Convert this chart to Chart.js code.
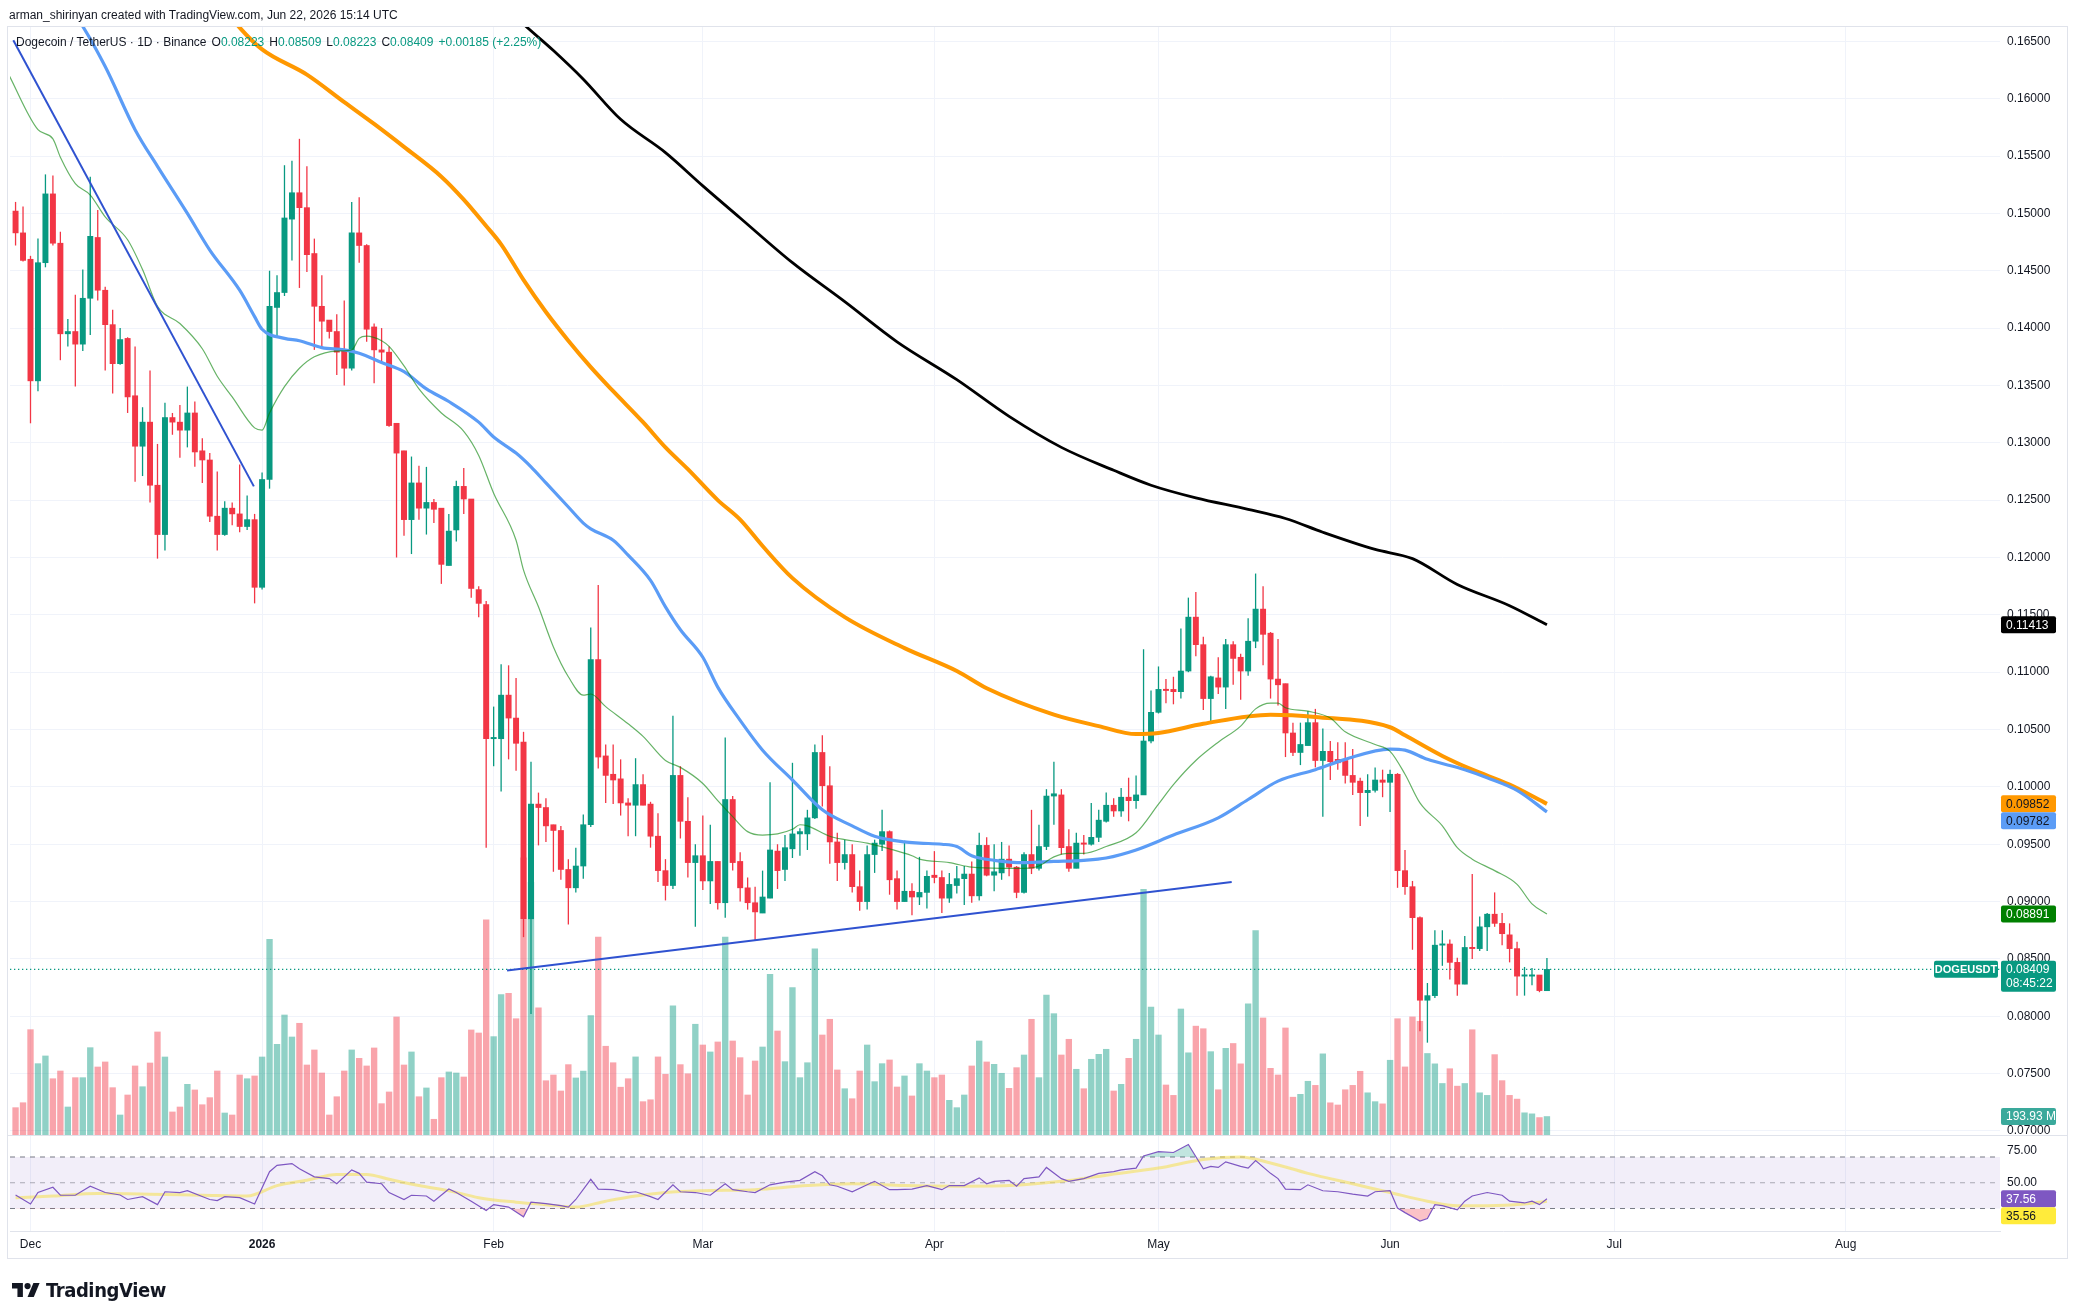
<!DOCTYPE html>
<html lang="en">
<head>
<meta charset="utf-8">
<title>DOGEUSDT 1D</title>
<script src="https://cdn.jsdelivr.net/npm/chart.js@4.4.1/dist/chart.umd.min.js"></script>
<style>
html, body { margin: 0; padding: 0; background: #ffffff; }
body { position: relative; width: 2078px; height: 1314px; overflow: hidden; font-family: 'Liberation Sans', Arial, sans-serif; color: #131722; }
.box { position: absolute; }
#frame { left: 7px; top: 26px; width: 2061px; height: 1233px; border: 1px solid #e0e3eb; box-sizing: border-box; }
#mainBox { left: 0; top: 0; width: 2078px; height: 1136px; }
#rsiBox { left: 0; top: 1135px; width: 2078px; height: 179px; }
#sep { left: 8px; top: 1135px; width: 2059px; height: 1px; background: #e0e3eb; }
#header { left: 9px; top: 7px; font-size: 12px; line-height: 16px; white-space: nowrap; }
#legend { left: 16px; top: 34px; font-size: 12px; line-height: 16px; white-space: nowrap; }
#legend .v { color: #089981; }
#legend .gap { display: inline-block; width: 5px; }
#logo { left: 12px; top: 1279px; display: flex; align-items: center; gap: 6px; font-family: 'DejaVu Sans Condensed', 'DejaVu Sans', sans-serif; font-stretch: condensed; font-weight: bold; font-size: 20px; line-height: 22px; letter-spacing: -0.4px; }
</style>
</head>
<body>
<div id="frame" class="box"></div>
<div id="mainBox" class="box"><canvas id="mainChart"></canvas></div>
<div id="rsiBox" class="box"><canvas id="rsiChart"></canvas></div>
<div id="sep" class="box"></div>
<div id="header" class="box">arman_shirinyan created with TradingView.com, Jun 22, 2026 15:14 UTC</div>
<div id="legend" class="box"></div>
<div id="logo" class="box"><svg width="28" height="18" viewBox="0 3 36 20"><path d="M14 22H7V11H0V4h14v18z" fill="#131722"/><circle cx="20" cy="8" r="4" fill="#131722"/><path d="M28 22h-8l7.5-18h8L28 22z" fill="#131722"/></svg><span>TradingView</span></div>
<script>
// day 0 = 1 Dec 2025, the first candle is 29 Nov 2025 (day -2)
var firstDay = -2;

var opens = [
  0.1502,0.1483,0.1460,0.1354,0.1457,0.1517,0.1474,0.1395,0.1397,0.1386,
  0.1426,0.1479,0.1433,0.1403,0.1369,0.1391,0.1341,0.1297,0.1318,0.1263,
  0.1220,0.1322,0.1318,0.1311,0.1326,0.1293,0.1285,0.1236,0.1220,0.1243,
  0.1238,0.1227,0.1233,0.1174,0.1268,0.1418,0.1431,0.1495,0.1518,0.1505,
  0.1465,0.1419,0.1407,0.1397,0.1380,0.1365,0.1483,0.1472,0.1401,0.1381,
  0.1379,0.1317,0.1293,0.1233,0.1265,0.1243,0.1248,0.1243,0.1193,0.1224,
  0.1262,0.1251,0.1172,0.1159,0.1042,0.1042,0.1080,0.1060,0.1039,0.0885,
  0.0985,0.0982,0.0967,0.0962,0.0928,0.0912,0.0931,0.0967,0.1111,0.1027,
  0.1011,0.1007,0.0986,0.0984,0.1002,0.0985,0.0957,0.0927,0.0914,0.1010,
  0.0970,0.0934,0.0940,0.0918,0.0935,0.0899,0.0989,0.0935,0.0912,0.0899,
  0.0890,0.0903,0.0944,0.0928,0.0946,0.0959,0.0959,0.0973,0.1030,0.1001,
  0.0952,0.0934,0.0941,0.0913,0.0900,0.0941,0.0950,0.0961,0.0920,0.0900,
  0.0909,0.0904,0.0908,0.0923,0.0921,0.0903,0.0914,0.0920,0.0924,0.0905,
  0.0949,0.0923,0.0925,0.0937,0.0930,0.0908,0.0941,0.0929,0.0948,0.0992,
  0.0993,0.0948,0.0929,0.0951,0.0950,0.0956,0.0970,0.0984,0.0979,0.0991,
  0.0988,0.0993,0.1040,0.1065,0.1085,0.1085,0.1083,0.1101,0.1148,0.1124,
  0.1077,0.1095,0.1087,0.1124,0.1113,0.1101,0.1127,0.1155,0.1134,0.1094,
  0.1090,0.1047,0.1030,0.1036,0.1056,0.1023,0.1031,0.1024,0.1023,0.1010,
  0.1005,0.0995,0.0997,0.1006,0.1004,0.1011,0.0927,0.0913,0.0886,0.0814,
  0.0818,0.0862,0.0863,0.0847,0.0828,0.0860,0.0859,0.0878,0.0889,0.0881,
  0.0871,0.0859,0.0835,0.0835,0.0836,0.08223
];
var highs = [
  0.1510,0.1506,0.1463,0.1478,0.1534,0.1533,0.1484,0.1408,0.1429,0.1451,
  0.1532,0.1503,0.1436,0.1416,0.1400,0.1392,0.1384,0.1331,0.1363,0.1299,
  0.1335,0.1326,0.1333,0.1349,0.1336,0.1304,0.1291,0.1275,0.1249,0.1248,
  0.1281,0.1254,0.1238,0.1274,0.1450,0.1446,0.1542,0.1546,0.1565,0.1541,
  0.1478,0.1446,0.1407,0.1412,0.1424,0.1510,0.1514,0.1473,0.1404,0.1400,
  0.1384,0.1317,0.1293,0.1288,0.1280,0.1279,0.1251,0.1243,0.1238,0.1267,
  0.1278,0.1251,0.1175,0.1162,0.1070,0.1107,0.1106,0.1095,0.1048,0.1022,
  0.0995,0.0990,0.0967,0.0966,0.0937,0.0947,0.0976,0.1139,0.1176,0.1037,
  0.1037,0.1024,0.0990,0.1025,0.1011,0.0987,0.0977,0.0937,0.1062,0.1018,
  0.0991,0.0950,0.0975,0.0967,0.0935,0.1043,0.0992,0.0943,0.0921,0.0913,
  0.0927,0.1004,0.0950,0.0958,0.1021,0.0964,0.0980,0.1037,0.1045,0.1018,
  0.0960,0.0954,0.0950,0.0927,0.0949,0.0954,0.0980,0.0962,0.0927,0.0953,
  0.0916,0.0939,0.0927,0.0944,0.0927,0.0925,0.0931,0.0931,0.0935,0.0960,
  0.0956,0.0950,0.0952,0.0949,0.0931,0.0943,0.0980,0.0967,0.0998,0.1022,
  0.0998,0.0963,0.0960,0.0958,0.0986,0.0980,0.0995,0.0990,0.0999,0.1008,
  0.1010,0.1120,0.1084,0.1105,0.1094,0.1096,0.1138,0.1165,0.1170,0.1131,
  0.1097,0.1113,0.1129,0.1127,0.1116,0.1147,0.1186,0.1175,0.1135,0.1129,
  0.1090,0.1056,0.1056,0.1066,0.1068,0.1051,0.1040,0.1039,0.1039,0.1033,
  0.1008,0.1011,0.1017,0.1015,0.1015,0.1012,0.0945,0.0918,0.0887,0.0829,
  0.0875,0.0875,0.0867,0.0851,0.0870,0.0924,0.0887,0.0890,0.0908,0.0890,
  0.0881,0.0865,0.0843,0.0842,0.0836,0.08509
];
var lows = [
  0.1472,0.1458,0.1317,0.1345,0.1453,0.1472,0.1372,0.1384,0.1349,0.1380,
  0.1394,0.1424,0.1363,0.1343,0.1368,0.1326,0.1266,0.1271,0.1248,0.1199,
  0.1206,0.1307,0.1287,0.1296,0.1279,0.1265,0.1231,0.1206,0.1219,0.1228,
  0.1222,0.1224,0.1160,0.1172,0.1260,0.1392,0.1428,0.1459,0.1435,0.1449,
  0.1381,0.1383,0.1391,0.1359,0.1350,0.1363,0.1457,0.1388,0.1352,0.1370,
  0.1314,0.1200,0.1219,0.1203,0.1233,0.1220,0.1230,0.1177,0.1193,0.1214,
  0.1238,0.1165,0.1148,0.0947,0.1018,0.0996,0.1024,0.1014,0.0869,0.0802,
  0.0949,0.0952,0.0926,0.0919,0.0880,0.0908,0.0920,0.0965,0.1016,0.0986,
  0.0985,0.0975,0.0957,0.0957,0.0984,0.0947,0.0917,0.0901,0.0911,0.0955,
  0.0921,0.0878,0.0910,0.0898,0.0893,0.0886,0.0927,0.0900,0.0893,0.0866,
  0.0890,0.0903,0.0911,0.0918,0.0938,0.0940,0.0945,0.0972,0.0983,0.0933,
  0.0918,0.0928,0.0908,0.0892,0.0893,0.0925,0.0944,0.0906,0.0893,0.0900,
  0.0888,0.0897,0.0894,0.0916,0.0890,0.0899,0.0907,0.0897,0.0899,0.0901,
  0.0922,0.0909,0.0919,0.0922,0.0903,0.0907,0.0924,0.0927,0.0945,0.0967,
  0.0941,0.0926,0.0929,0.0941,0.0949,0.0952,0.0969,0.0974,0.0974,0.0970,
  0.0981,0.0993,0.1038,0.1064,0.1073,0.1072,0.1077,0.1100,0.1114,0.1067,
  0.1056,0.1081,0.1068,0.1089,0.1076,0.1097,0.1121,0.1106,0.1077,0.1071,
  0.1026,0.1027,0.1019,0.1036,0.1017,0.0974,0.1006,0.1015,0.1003,0.0993,
  0.0966,0.0974,0.0995,0.0991,0.0978,0.0912,0.0906,0.0858,0.0787,0.0777,
  0.0816,0.0844,0.0832,0.0818,0.0828,0.0850,0.0857,0.0857,0.0878,0.0862,
  0.0847,0.0818,0.0818,0.0827,0.0821,0.08223
];
var closes = [
  0.1483,0.1459,0.1354,0.1457,0.1517,0.1474,0.1395,0.1397,0.1386,0.1426,
  0.1480,0.1433,0.1403,0.1369,0.1390,0.1340,0.1297,0.1318,0.1263,0.1220,
  0.1322,0.1318,0.1311,0.1326,0.1292,0.1285,0.1236,0.1220,0.1243,0.1238,
  0.1227,0.1233,0.1174,0.1268,0.1419,0.1431,0.1496,0.1518,0.1505,0.1464,
  0.1419,0.1406,0.1397,0.1379,0.1365,0.1483,0.1472,0.1399,0.1381,0.1379,
  0.1315,0.1291,0.1233,0.1265,0.1243,0.1248,0.1242,0.1194,0.1223,0.1262,
  0.1251,0.1173,0.1160,0.1042,0.1043,0.1080,0.1060,0.1038,0.0885,0.0985,
  0.0982,0.0966,0.0962,0.0928,0.0912,0.0931,0.0967,0.1111,0.1026,0.1010,
  0.1006,0.0986,0.0984,0.1002,0.0984,0.0957,0.0927,0.0914,0.1010,0.0970,
  0.0934,0.0940,0.0918,0.0935,0.0899,0.0989,0.0934,0.0912,0.0899,0.0891,
  0.0904,0.0945,0.0927,0.0947,0.0959,0.0961,0.0973,0.1030,0.1001,0.0952,
  0.0934,0.0941,0.0913,0.0900,0.0941,0.0951,0.0961,0.0919,0.0900,0.0909,
  0.0904,0.0908,0.0922,0.0921,0.0903,0.0915,0.0920,0.0924,0.0905,0.0949,
  0.0923,0.0926,0.0937,0.0930,0.0908,0.0941,0.0929,0.0948,0.0992,0.0994,
  0.0947,0.0929,0.0951,0.0950,0.0956,0.0971,0.0984,0.0979,0.0991,0.0988,
  0.0993,0.1040,0.1065,0.1085,0.1084,0.1083,0.1101,0.1148,0.1124,0.1077,
  0.1096,0.1087,0.1124,0.1112,0.1101,0.1127,0.1155,0.1133,0.1094,0.1089,
  0.1047,0.1030,0.1037,0.1056,0.1023,0.1031,0.1022,0.1021,0.1010,0.1004,
  0.0995,0.0997,0.1006,0.1004,0.1011,0.0927,0.0913,0.0886,0.0814,0.0818,
  0.0862,0.0863,0.0847,0.0828,0.0860,0.0859,0.0878,0.0889,0.0881,0.0872,
  0.0859,0.0835,0.0836,0.0836,0.08224,0.08409
];
// volume in millions of DOGE
var volumes = [
  287,339,1106,749,830,591,672,294,602,602,
  917,714,767,497,210,420,725,507,756,1082,
  819,242,294,532,473,318,392,672,231,210,
  630,591,620,819,2055,952,1260,1029,1173,735,
  893,651,210,402,672,893,805,725,914,329,
  452,1239,735,872,402,494,165,602,662,651,
  609,1103,1071,2258,1033,1475,1487,1221,2909,2652,
  1334,570,630,462,739,599,671,1254,2078,932,
  759,502,591,820,350,370,820,638,1355,739,
  643,1163,945,872,977,2079,987,812,420,777,
  924,1687,1092,770,1547,602,759,1956,1050,1215,
  683,486,381,672,945,560,749,788,504,620,
  410,749,672,602,630,364,287,420,725,987,
  767,742,648,490,707,840,1215,602,1470,1274,
  840,1005,690,486,795,847,900,462,532,805,
  1005,2580,1344,1050,525,416,1323,863,1143,1116,
  875,475,910,961,747,1377,2146,1229,700,630,
  1124,397,427,564,521,852,338,315,475,521,
  669,443,350,327,785,1221,715,1240,1194,856,
  747,541,696,513,541,1105,443,416,844,571,
  416,377,233,222,183,193.93
];

// moving averages (day, value)
var ma200Days = [58, 62, 66, 70, 74, 79, 85, 90, 95, 102, 109, 116, 124, 131, 138, 145, 150, 156, 163, 168, 173, 180, 185, 191, 198, 203];
var ma200Vals = [0.1712, 0.1690, 0.1665, 0.1642, 0.1617, 0.1582, 0.1553, 0.1524, 0.1496, 0.1457, 0.1423, 0.1388, 0.1355, 0.1323, 0.1296, 0.1276, 0.1263, 0.1252, 0.1242, 0.1234, 0.1222, 0.1207, 0.1199, 0.11765, 0.1158, 0.11413];

var ma100Days = [22, 28, 31, 37, 42, 46, 50, 55, 58, 61, 63, 66, 69, 72, 75, 78, 82, 85, 88, 92, 95, 98, 102, 109, 117, 124, 128, 137, 143, 148, 151, 157, 166, 172, 182, 184, 189, 193, 198, 203];
var ma100Vals = [0.1712, 0.1662, 0.1643, 0.1621, 0.1597, 0.1578, 0.1558, 0.1532, 0.1512, 0.1489, 0.1473, 0.1442, 0.1414, 0.1389, 0.1366, 0.1345, 0.1318, 0.1296, 0.1277, 0.1250, 0.1233, 0.1210, 0.1182, 0.1148, 0.1121, 0.1101, 0.1086, 0.1063, 0.1053, 0.1046, 0.1047, 0.1055, 0.1063, 0.1061, 0.1052, 0.1045, 0.1027, 0.1015, 0.1002, 0.09852];

var ma50Days = [3, 7, 10, 14, 17, 21, 24, 28, 30, 31, 34, 36, 39, 42, 44, 47, 50, 53, 56, 60, 62, 65, 67, 69, 72, 74, 75, 78, 80, 83, 85, 87, 90, 92, 95, 98, 102, 106, 110, 113, 117, 119, 122, 124, 126, 129, 133, 137, 141, 144, 148, 153, 159, 163, 167, 172, 176, 182, 184, 187, 192, 195, 199, 203];
var ma50Vals = [0.1700, 0.1663, 0.1628, 0.1573, 0.1541, 0.1500, 0.1468, 0.1433, 0.1410, 0.1399, 0.1391, 0.1389, 0.1383, 0.1381, 0.1378, 0.1370, 0.1362, 0.1347, 0.1336, 0.1318, 0.1305, 0.1291, 0.1279, 0.1265, 0.1244, 0.1230, 0.1225, 0.1215, 0.1202, 0.1180, 0.1157, 0.1137, 0.1113, 0.1087, 0.1058, 0.1032, 0.1006, 0.0980, 0.0966, 0.0957, 0.0952, 0.0951, 0.0950, 0.0948, 0.0940, 0.0936, 0.0934, 0.0935, 0.0936, 0.0938, 0.0945, 0.0958, 0.0973, 0.0989, 0.1005, 0.1015, 0.1024, 0.1033, 0.1032, 0.1024, 0.1015, 0.1008, 0.0997, 0.09782];

var ma20Days = [-3, 1, 3, 4, 6, 8, 10, 13, 15, 17, 20, 23, 25, 27, 30, 31, 32, 34, 36, 38, 41, 43, 44, 45, 47, 48, 50, 52, 55, 58, 60, 62, 65, 66, 68, 70, 72, 74, 75, 77, 80, 82, 85, 87, 90, 92, 94, 96, 98, 100, 102, 103, 104, 107, 109, 112, 115, 118, 119, 123, 126, 130, 133, 135, 137, 139, 141, 144, 148, 151, 153, 156, 159, 162, 164, 166, 167, 168, 171, 174, 176, 180, 182, 184, 186, 189, 191, 193, 196, 199, 201, 203];
var ma20Vals = [0.1622, 0.1573, 0.1565, 0.1549, 0.1526, 0.1516, 0.1497, 0.1477, 0.1451, 0.1419, 0.1404, 0.1382, 0.1358, 0.1340, 0.1313, 0.1311, 0.1326, 0.1349, 0.1365, 0.1375, 0.1380, 0.1381, 0.1391, 0.1393, 0.1389, 0.1384, 0.1367, 0.1347, 0.1326, 0.1310, 0.1289, 0.1256, 0.1215, 0.1189, 0.1157, 0.1122, 0.1096, 0.1080, 0.1081, 0.1070, 0.1055, 0.1044, 0.1023, 0.1017, 0.1003, 0.0988, 0.0974, 0.0961, 0.0958, 0.0959, 0.0963, 0.0967, 0.0966, 0.0957, 0.0954, 0.0951, 0.0946, 0.0940, 0.0937, 0.0934, 0.0930, 0.0929, 0.0929, 0.0931, 0.0939, 0.0942, 0.0942, 0.0948, 0.0960, 0.0985, 0.1002, 0.1023, 0.1039, 0.1053, 0.1068, 0.1073, 0.1073, 0.1069, 0.1066, 0.1060, 0.1048, 0.1037, 0.1031, 0.1011, 0.0986, 0.0966, 0.0947, 0.0937, 0.0927, 0.0915, 0.0898, 0.08891];

// hand drawn trend lines (day, price)
var trendDownDays = [-2.3, 29.9];
var trendDownVals = [0.1651, 0.1262];
var trendUpDays = [63.8, 160.8];
var trendUpVals = [0.0840, 0.0917];

// RSI(14) and its moving average
var rsiDays = [-2, 0, 1, 3, 4, 6, 8, 10, 12, 13, 15, 17, 18, 20, 21, 24, 25, 26, 28, 30, 32, 33, 35, 36, 38, 40, 41, 43, 44, 45, 47, 48, 50, 51, 53, 54, 56, 57, 59, 61, 62, 64, 66, 67, 69, 71, 72, 73, 75, 76, 78, 80, 81, 83, 84, 86, 87, 89, 91, 93, 94, 96, 97, 99, 101, 103, 105, 106, 107, 108, 110, 112, 113, 115, 116, 118, 120, 122, 123, 125, 127, 128, 129, 131, 132, 133, 135, 136, 138, 139, 141, 143, 145, 146, 148, 149, 151, 153, 155, 157, 158, 159, 160, 162, 163, 164, 166, 167, 168, 170, 171, 173, 175, 177, 179, 180, 182, 183, 184, 186, 187, 188, 189, 191, 192, 193, 195, 197, 198, 200, 201, 202, 203];
var rsiVals = [40.5, 33.5, 42.4, 46.5, 40.3, 40.3, 47.3, 42.4, 40.5, 37, 39.2, 33, 43, 42.4, 43.8, 37, 36.2, 39.2, 38.4, 33.5, 58.6, 63.5, 64.9, 60.8, 54.6, 53.2, 49.2, 60, 57.3, 50.5, 49.2, 42.4, 37, 40.3, 39.7, 35.7, 45.1, 42.4, 35.7, 28.4, 33, 31.1, 23.5, 34.9, 33.8, 32.2, 31.1, 37, 52.7, 45.1, 44.6, 42.4, 43, 39.2, 37, 48.4, 43, 42.4, 40.3, 49.2, 44.6, 43, 42.4, 48.4, 50.5, 51.9, 58.6, 55.4, 48.4, 47.3, 43, 48.4, 51.1, 44.6, 44.6, 45.1, 47.8, 44.6, 47.8, 47.8, 53.8, 49.2, 51.1, 51.9, 47.3, 53.2, 54.6, 61.9, 53.2, 51.1, 53.2, 57.3, 58.6, 60, 61.4, 70.8, 74.1, 73.5, 79.7, 60.8, 62.7, 61.9, 66.2, 62.7, 61.4, 67.3, 57.3, 53.2, 45.1, 44.6, 48.4, 43.8, 43, 41.1, 39.7, 43, 43.8, 30.3, 26.8, 20.3, 22.2, 33, 32.2, 28.9, 35.7, 39.7, 42.4, 40.3, 35.7, 34.3, 35.7, 33, 37.56];
var rsiMaDays = [-2, 3, 9, 16, 23, 29, 33, 37, 41, 45, 48, 52, 56, 60, 65, 69, 73, 77, 81, 85, 90, 97, 104, 110, 117, 124, 131, 138, 144, 151, 157, 162, 166, 171, 177, 182, 187, 191, 195, 200, 203];
var rsiMaVals = [38.4, 39.7, 41.6, 41.1, 40.3, 39.7, 47.8, 51.9, 56.5, 56.5, 52.7, 47.8, 43.8, 38.4, 34.9, 33, 31.1, 35.7, 39.7, 42.4, 43.8, 44.6, 47.8, 49.2, 47.8, 47.3, 47.8, 51.1, 55.9, 61.4, 68.1, 70, 65.4, 57.3, 49.2, 42.4, 35.7, 32.2, 32.2, 33.5, 35.56];
var rsiLevels = [70, 50, 30];

// axes
var monthDays = [0, 31, 62, 90, 121, 151, 182, 212, 243];
var monthLabels = ['Dec', '2026', 'Feb', 'Mar', 'Apr', 'May', 'Jun', 'Jul', 'Aug'];
var priceTicks = [0.165, 0.160, 0.155, 0.150, 0.145, 0.140, 0.135, 0.130, 0.125, 0.120, 0.115, 0.110, 0.105, 0.100, 0.095, 0.090, 0.085, 0.080, 0.075, 0.070];
var rsiTicks = [75, 50];

// ---------------------------------------------------------------
var FONT = "'Liberation Sans', Arial, sans-serif";
var gridColor = '#f0f3fa';
var upColor = '#089981', downColor = '#f23645';
var xMin = -2.744, xMax = 263.65;
var last = closes.length - 1;

function pts(xs, ys) {
  return xs.map(function (x, i) { return { x: x, y: ys[i] }; });
}
var candleDays = opens.map(function (o, i) { return firstDay + i; });
var candleColors = opens.map(function (o, i) { return closes[i] >= o ? upColor : downColor; });
var volColors = opens.map(function (o, i) { return closes[i] >= o ? 'rgba(8,153,129,0.45)' : 'rgba(242,54,69,0.45)'; });

// legend line
(function () {
  var f5 = function (v) { return v.toFixed(5); };
  var chg = closes[last] - closes[last - 1];
  var parts = [['O', opens[last]], ['H', highs[last]], ['L', lows[last]], ['C', closes[last]]];
  var html = 'Dogecoin / TetherUS · 1D · Binance<span class="gap"></span>';
  html += parts.map(function (p) { return p[0] + '<span class="v">' + f5(p[1]) + '</span>'; }).join('<span class="gap"></span>');
  html += '<span class="gap"></span><span class="v">+' + f5(chg) + ' (+' + (chg / closes[last - 1] * 100).toFixed(2) + '%)</span>';
  document.getElementById('legend').innerHTML = html;
})();

function roundRect(ctx, x, y, w, h, r) {
  ctx.beginPath();
  ctx.moveTo(x + r, y);
  ctx.lineTo(x + w - r, y);
  ctx.quadraticCurveTo(x + w, y, x + w, y + r);
  ctx.lineTo(x + w, y + h - r);
  ctx.quadraticCurveTo(x + w, y + h, x + w - r, y + h);
  ctx.lineTo(x + r, y + h);
  ctx.quadraticCurveTo(x, y + h, x, y + h - r);
  ctx.lineTo(x, y + r);
  ctx.quadraticCurveTo(x, y, x + r, y);
  ctx.closePath();
  ctx.fill();
}

// value labels on the price scale, pushed down when they overlap
function drawBadges(chart, items) {
  var ctx = chart.ctx, area = chart.chartArea;
  items.forEach(function (it) {
    it.h = 17 + (it.lines.length - 1) * 14;
    it.top = chart.scales[it.axis].getPixelForValue(it.value) - 8.5;
  });
  items.sort(function (a, b) { return a.top - b.top; });
  var prev = -1e9;
  items.forEach(function (it) {
    if (it.top < prev) it.top = prev;
    prev = it.top + it.h;
  });
  ctx.save();
  ctx.textBaseline = 'middle';
  ctx.textAlign = 'left';
  items.forEach(function (it) {
    ctx.font = '12px ' + FONT;
    ctx.fillStyle = it.bg;
    roundRect(ctx, area.right + 1, it.top, 55, it.h, 2);
    ctx.fillStyle = it.fg;
    it.lines.forEach(function (t, k) { ctx.fillText(t, area.right + 6, it.top + 9 + k * 14); });
    if (it.tag) {
      ctx.fillStyle = it.bg;
      roundRect(ctx, area.right - 66, it.top, 64, 17, 2);
      ctx.fillStyle = it.fg;
      ctx.font = 'bold 11px ' + FONT;
      ctx.textAlign = 'center';
      ctx.fillText(it.tag, area.right - 34, it.top + 9);
      ctx.textAlign = 'left';
    }
  });
  ctx.restore();
}

function maLine(label, xs, ys, color, width, order) {
  return {
    type: 'line', label: label, data: pts(xs, ys), yAxisID: 'y',
    borderColor: color, borderWidth: width, pointRadius: 0,
    cubicInterpolationMode: 'monotone', clip: 0, order: order
  };
}

// keep the plot area exactly where the layout padding puts it
function fixWidth(s) {
  s.width = 68;
  s.paddingTop = 0; s.paddingBottom = 0; s.paddingLeft = 0; s.paddingRight = 0;
}
function fixHeight(h) {
  return function (s) {
    s.height = h;
    s.paddingTop = 0; s.paddingBottom = 0; s.paddingLeft = 0; s.paddingRight = 0;
  };
}

var xScaleBase = {
  type: 'linear', min: xMin, max: xMax, offset: false,
  afterBuildTicks: function (s) { s.ticks = monthDays.map(function (v) { return { value: v }; }); },
  grid: { color: gridColor, drawTicks: false, offset: false },
  border: { display: false }
};

new Chart(document.getElementById('mainChart'), {
  type: 'bar',
  data: {
    datasets: [
      { type: 'bar', label: 'Volume', data: pts(candleDays, volumes), yAxisID: 'yVol',
        backgroundColor: volColors, barThickness: 5.7, grouped: false, borderWidth: 0, order: 20 },
      { type: 'bar', label: 'Wicks', data: candleDays.map(function (d, i) { return { x: d, y: [lows[i], highs[i]] }; }),
        yAxisID: 'y', backgroundColor: candleColors, barThickness: 1.3, inflateAmount: 0, grouped: false, borderWidth: 0, order: 11 },
      { type: 'bar', label: 'Bodies', data: candleDays.map(function (d, i) { return { x: d, y: [Math.min(opens[i], closes[i]), Math.max(opens[i], closes[i])] }; }),
        yAxisID: 'y', backgroundColor: candleColors, barThickness: 5.3, minBarLength: 1.3, grouped: false, borderWidth: 0, order: 10 },
      maLine('MA 200', ma200Days, ma200Vals, '#000000', 2.8, 5),
      maLine('MA 100', ma100Days, ma100Vals, '#ff9800', 4, 4),
      maLine('MA 50', ma50Days, ma50Vals, '#5b9cf6', 3.2, 3),
      maLine('MA 20', ma20Days, ma20Vals, 'rgba(0,128,0,0.6)', 1.2, 2),
      { type: 'line', label: 'Trend down', data: pts(trendDownDays, trendDownVals), yAxisID: 'y',
        borderColor: '#2f52d0', borderWidth: 2, pointRadius: 0, clip: 0, order: 1 },
      { type: 'line', label: 'Trend up', data: pts(trendUpDays, trendUpVals), yAxisID: 'y',
        borderColor: '#2f52d0', borderWidth: 2, pointRadius: 0, clip: 0, order: 1 },
      { type: 'line', label: 'Last price', data: pts([xMin, xMax], [closes[last], closes[last]]), yAxisID: 'y',
        borderColor: '#089981', borderWidth: 1.2, borderDash: [1.3, 2.7], pointRadius: 0, clip: 0, order: 15 }
    ]
  },
  options: {
    responsive: true, maintainAspectRatio: false, animation: false, events: [],
    layout: { autoPadding: false, padding: { left: 10, right: 10, top: 27, bottom: 1 } },
    plugins: { legend: { display: false }, tooltip: { enabled: false } },
    scales: {
      x: Object.assign({}, xScaleBase, {
        ticks: { display: false },
        afterFit: fixHeight(0)
      }),
      y: {
        position: 'right', min: 0.06965, max: 0.16625,
        afterBuildTicks: function (s) { s.ticks = priceTicks.map(function (v) { return { value: v }; }); },
        ticks: { callback: function (v) { return v.toFixed(5); }, color: '#131722', font: { family: FONT, size: 12 }, padding: 7 },
        grid: { color: gridColor, drawTicks: false },
        border: { display: false },
        afterFit: fixWidth
      },
      yVol: { display: false, min: 0, max: 11634 }
    }
  },
  plugins: [{
    id: 'priceBadges',
    afterDraw: function (chart) {
      drawBadges(chart, [
        { axis: 'y', value: ma200Vals[ma200Vals.length - 1], bg: '#000000', fg: '#ffffff', lines: [ma200Vals[ma200Vals.length - 1].toFixed(5)] },
        { axis: 'y', value: ma100Vals[ma100Vals.length - 1], bg: '#ff9800', fg: '#131722', lines: [ma100Vals[ma100Vals.length - 1].toFixed(5)] },
        { axis: 'y', value: ma50Vals[ma50Vals.length - 1], bg: '#5b9cf6', fg: '#131722', lines: [ma50Vals[ma50Vals.length - 1].toFixed(5)] },
        { axis: 'y', value: ma20Vals[ma20Vals.length - 1], bg: '#008000', fg: '#ffffff', lines: [ma20Vals[ma20Vals.length - 1].toFixed(5)] },
        { axis: 'y', value: closes[last], bg: '#089981', fg: '#ffffff', lines: [closes[last].toFixed(5), '08:45:22'], tag: 'DOGEUSDT' },
        { axis: 'yVol', value: volumes[last], bg: '#3aa99b', fg: '#ffffff', lines: [volumes[last].toFixed(2) + ' M'] }
      ]);
    }
  }]
});

new Chart(document.getElementById('rsiChart'), {
  type: 'line',
  data: {
    datasets: [
      { label: 'Band', data: pts([xMin, xMax], [rsiLevels[0], rsiLevels[0]]), fill: { value: rsiLevels[2] },
        backgroundColor: 'rgba(126,87,194,0.1)', borderColor: '#787b86', borderWidth: 1, borderDash: [5, 5], pointRadius: 0, order: 9 },
      { label: 'Mid', data: pts([xMin, xMax], [rsiLevels[1], rsiLevels[1]]), fill: false,
        borderColor: 'rgba(120,123,134,0.6)', borderWidth: 1, borderDash: [5, 5], pointRadius: 0, order: 8 },
      { label: 'Low', data: pts([xMin, xMax], [rsiLevels[2], rsiLevels[2]]), fill: false,
        borderColor: '#787b86', borderWidth: 1, borderDash: [5, 5], pointRadius: 0, order: 8 },
      { label: 'Overbought', data: pts(rsiDays, rsiVals), borderWidth: 0, pointRadius: 0,
        fill: { target: { value: rsiLevels[0] }, above: 'rgba(8,153,129,0.25)', below: 'transparent' }, order: 7 },
      { label: 'RSI MA', data: pts(rsiMaDays, rsiMaVals), borderColor: 'rgba(247,224,60,0.5)', borderWidth: 3,
        pointRadius: 0, cubicInterpolationMode: 'monotone', fill: false, order: 2 },
      { label: 'RSI', data: pts(rsiDays, rsiVals), borderColor: '#7e57c2', borderWidth: 1.2, pointRadius: 0,
        fill: { target: { value: rsiLevels[2] }, above: 'transparent', below: 'rgba(242,54,69,0.3)' }, order: 1 }
    ]
  },
  options: {
    responsive: true, maintainAspectRatio: false, animation: false, events: [],
    layout: { autoPadding: false, padding: { left: 10, right: 10, top: 1, bottom: 56 } },
    plugins: { legend: { display: false }, tooltip: { enabled: false } },
    scales: {
      x: Object.assign({}, xScaleBase, {
        ticks: {
          autoSkip: false, maxRotation: 0, padding: 6, color: '#131722',
          callback: function (v) { return monthLabels[monthDays.indexOf(v)]; },
          font: function (c) {
            var lbl = c.tick ? monthLabels[monthDays.indexOf(c.tick.value)] : '';
            return { family: FONT, size: 12, weight: lbl === '2026' ? 'bold' : 'normal' };
          }
        },
        border: { display: true, color: '#e0e3eb' },
        afterFit: fixHeight(27)
      }),
      y: {
        position: 'right', min: 12.52, max: 86.31,
        afterBuildTicks: function (s) { s.ticks = rsiTicks.map(function (v) { return { value: v }; }); },
        ticks: { callback: function (v) { return v.toFixed(2); }, color: '#131722', font: { family: FONT, size: 12 }, padding: 7 },
        grid: { display: false, drawTicks: false },
        border: { display: false },
        afterFit: fixWidth
      }
    }
  },
  plugins: [{
    id: 'rsiBadges',
    afterDraw: function (chart) {
      drawBadges(chart, [
        { axis: 'y', value: rsiVals[rsiVals.length - 1], bg: '#7e57c2', fg: '#ffffff', lines: [rsiVals[rsiVals.length - 1].toFixed(2)] },
        { axis: 'y', value: rsiMaVals[rsiMaVals.length - 1], bg: '#ffeb3b', fg: '#131722', lines: [rsiMaVals[rsiMaVals.length - 1].toFixed(2)] }
      ]);
    }
  }]
});
</script>
</body>
</html>
